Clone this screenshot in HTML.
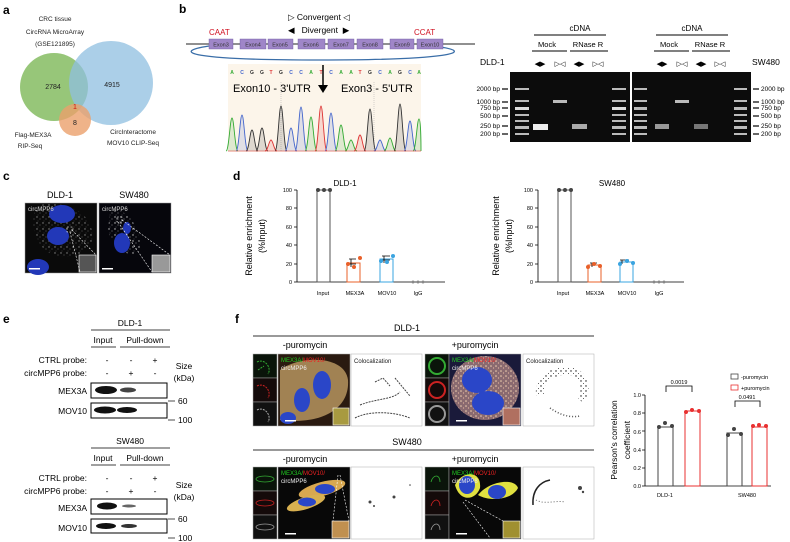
<!DOCTYPE html>
<html><head><meta charset="utf-8"><style>
html,body{margin:0;padding:0;background:#fff}
svg{display:block;font-family:"Liberation Sans",Arial,sans-serif}
</style></head><body>
<svg width="790" height="542" viewBox="0 0 790 542" xmlns="http://www.w3.org/2000/svg">
<defs>
<pattern id="spk" width="6" height="6" patternUnits="userSpaceOnUse"><circle cx="1" cy="1" r="0.7" fill="#ddd"/><circle cx="4" cy="3" r="0.5" fill="#bbb"/><circle cx="2" cy="5" r="0.4" fill="#999"/></pattern>
<pattern id="spkp" width="5" height="5" patternUnits="userSpaceOnUse"><rect width="5" height="5" fill="#8a6a70"/><circle cx="1" cy="1" r="0.8" fill="#f0d0b0"/><circle cx="3.5" cy="3" r="0.6" fill="#e8b8a0"/></pattern>
<pattern id="dots" width="5" height="5" patternUnits="userSpaceOnUse"><circle cx="1" cy="1" r="0.7" fill="#111"/><circle cx="3.5" cy="3.5" r="0.5" fill="#333"/></pattern>
</defs>
<!-- panel letters -->
<g font-weight="bold" font-size="12" fill="#000">
<text x="3" y="14">a</text><text x="179" y="13">b</text><text x="3" y="180">c</text><text x="233" y="180">d</text><text x="3" y="323">e</text><text x="235" y="323">f</text>
</g>

<!-- A: Venn -->
<g font-size="6.5" text-anchor="middle" fill="#222">
<text x="55" y="21">CRC tissue</text><text x="55" y="34">CircRNA MicroArray</text><text x="55" y="46">(GSE121895)</text>
</g>
<circle cx="54" cy="87" r="34" fill="#8cc06a" opacity="0.9"/>
<circle cx="111" cy="83" r="42" fill="#8fbfe0" opacity="0.75"/>
<circle cx="75" cy="120" r="16" fill="#eba06c" opacity="0.8"/>
<g font-size="7" text-anchor="middle" fill="#222">
<text x="53" y="89">2784</text><text x="112" y="87">4915</text>
<text x="75" y="109" fill="#d01010">1</text><text x="75" y="125">8</text>
<text x="33" y="137" font-size="6.5">Flag-MEX3A</text><text x="30" y="148" font-size="6.5">RIP-Seq</text>
<text x="133" y="134" font-size="6.5">CircInteractome</text><text x="133" y="145" font-size="6.5">MOV10 CLIP-Seq</text>
</g>

<!-- B: exon diagram -->
<text x="288" y="20" font-size="8.5">▷ Convergent ◁</text>
<text x="288" y="33" font-size="8.5">◀&#160;&#160;&#160;Divergent&#160;&#160;▶</text>
<text x="209" y="35" font-size="8" fill="#d01020">CAAT</text>
<text x="414" y="35" font-size="8" fill="#d01020">CCAT</text>
<line x1="186" y1="44" x2="475" y2="44" stroke="#222" stroke-width="1"/>
<path d="M209 46 C170 52 190 60 320 60 C450 60 475 52 440 47" fill="none" stroke="#3a6ea8" stroke-width="1.3"/>
<g fill="#9f86c8" stroke="#6c57a0" stroke-width="0.4">
<rect x="209" y="39" width="24" height="10"/><rect x="240" y="39" width="26" height="10"/><rect x="268" y="39" width="25" height="10"/><rect x="298" y="39" width="27" height="10"/><rect x="328" y="39" width="26" height="10"/><rect x="357" y="39" width="26" height="10"/><rect x="390" y="39" width="24" height="10"/><rect x="417" y="39" width="26" height="10"/>
</g>
<g font-size="5.5" fill="#333" text-anchor="middle">
<text x="221" y="46.5">Exon3</text><text x="253" y="46.5">Exon4</text><text x="280" y="46.5">Exon5</text><text x="311" y="46.5">Exon6</text><text x="341" y="46.5">Exon7</text><text x="370" y="46.5">Exon8</text><text x="402" y="46.5">Exon9</text><text x="430" y="46.5">Exon10</text>
</g>
<!-- chromatogram -->
<rect x="228" y="64" width="193" height="88" fill="#fcf5ea"/>
<line x1="281" y1="82" x2="281" y2="152" stroke="#aaa" stroke-width="0.5" stroke-dasharray="1,1"/>
<line x1="374" y1="82" x2="374" y2="152" stroke="#aaa" stroke-width="0.5" stroke-dasharray="1,1"/>
<g font-size="5" text-anchor="middle" font-weight="bold">
<text x="232" y="74" fill="#3a3">A</text><text x="242" y="74" fill="#46c">C</text><text x="252" y="74" fill="#333">G</text><text x="262" y="74" fill="#333">G</text><text x="271" y="74" fill="#d33">T</text><text x="281" y="74" fill="#333">G</text><text x="291" y="74" fill="#46c">C</text><text x="301" y="74" fill="#46c">C</text><text x="311" y="74" fill="#3a3">A</text><text x="321" y="74" fill="#d33">T</text><text x="331" y="74" fill="#46c">C</text><text x="341" y="74" fill="#3a3">A</text><text x="351" y="74" fill="#3a3">A</text><text x="360" y="74" fill="#d33">T</text><text x="370" y="74" fill="#333">G</text><text x="380" y="74" fill="#46c">C</text><text x="390" y="74" fill="#3a3">A</text><text x="400" y="74" fill="#333">G</text><text x="410" y="74" fill="#46c">C</text><text x="419" y="74" fill="#3a3">A</text>
</g>
<text x="233" y="92" font-size="11">Exon10 - 3'UTR</text>
<text x="341" y="92" font-size="11">Exon3 - 5'UTR</text>
<line x1="323" y1="65" x2="323" y2="88" stroke="#000" stroke-width="1.5"/>
<path d="M318 85 L323 93 L328 85 Z" fill="#000"/>
<g stroke-width="0.9" fill-opacity="0.15">
<path d="M226 151 C229 151 230 118 232 118 C234 118 235 151 238 151" stroke="#3a3" fill="#3a3"/>
<path d="M236 151 C239 151 240 115 242 115 C244 115 245 151 248 151" stroke="#46c" fill="#46c"/>
<path d="M246 151 C249 151 250 130 252 130 C254 130 255 151 258 151" stroke="#333" fill="#333"/>
<path d="M256 151 C259 151 260 128 262 128 C264 128 265 151 268 151" stroke="#333" fill="#333"/>
<path d="M265 151 C268 151 269 140 271 140 C273 140 274 151 277 151" stroke="#d33" fill="#d33"/>
<path d="M275 151 C278 151 279 106 281 106 C283 106 284 151 287 151" stroke="#333" fill="#333"/>
<path d="M285 151 C288 151 289 128 291 128 C293 128 294 151 297 151" stroke="#46c" fill="#46c"/>
<path d="M295 151 C298 151 299 107 301 107 C303 107 304 151 307 151" stroke="#46c" fill="#46c"/>
<path d="M305 151 C308 151 309 117 311 117 C313 117 314 151 317 151" stroke="#3a3" fill="#3a3"/>
<path d="M315 151 C318 151 319 106 321 106 C323 106 324 151 327 151" stroke="#d33" fill="#d33"/>
<path d="M325 151 C328 151 329 113 331 113 C333 113 334 151 337 151" stroke="#46c" fill="#46c"/>
<path d="M335 151 C338 151 339 125 341 125 C343 125 344 151 347 151" stroke="#3a3" fill="#3a3"/>
<path d="M345 151 C348 151 349 140 351 140 C353 140 354 151 357 151" stroke="#3a3" fill="#3a3"/>
<path d="M354 151 C357 151 358 135 360 135 C362 135 363 151 366 151" stroke="#d33" fill="#d33"/>
<path d="M364 151 C367 151 368 109 370 109 C372 109 373 151 376 151" stroke="#333" fill="#333"/>
<path d="M374 151 C377 151 378 140 380 140 C382 140 383 151 386 151" stroke="#46c" fill="#46c"/>
<path d="M384 151 C387 151 388 138 390 138 C392 138 393 151 396 151" stroke="#3a3" fill="#3a3"/>
<path d="M394 151 C397 151 398 104 400 104 C402 104 403 151 406 151" stroke="#333" fill="#333"/>
<path d="M404 151 C407 151 408 121 410 121 C412 121 413 151 416 151" stroke="#46c" fill="#46c"/>
<path d="M413 151 C416 151 417 119 419 119 C421 119 421 151 421 151" stroke="#3a3" fill="#3a3"/>
</g>
<line x1="228" y1="151" x2="421" y2="151" stroke="#d33" stroke-width="0.6"/>

<!-- B: gels -->
<g font-size="8" text-anchor="middle">
<text x="580" y="31">cDNA</text><text x="692" y="31">cDNA</text>
<text x="547" y="47" font-size="7.5">Mock</text><text x="588" y="47" font-size="7.5">RNase R</text>
<text x="669" y="47" font-size="7.5">Mock</text><text x="710" y="47" font-size="7.5">RNase R</text>
</g>
<g stroke="#000" stroke-width="1">
<line x1="534" y1="35" x2="606" y2="35"/><line x1="656" y1="35" x2="728" y2="35"/>
<line x1="532" y1="51" x2="567" y2="51"/><line x1="570" y1="51" x2="608" y2="51"/>
<line x1="654" y1="51" x2="689" y2="51"/><line x1="692" y1="51" x2="730" y2="51"/>
</g>
<text x="480" y="65" font-size="8.5">DLD-1</text><text x="752" y="65" font-size="8.5">SW480</text>
<g font-size="7" text-anchor="middle">
<text x="540" y="66">◀▶</text><text x="560" y="66">▷◁</text><text x="579" y="66">◀▶</text><text x="598" y="66">▷◁</text>
<text x="662" y="66">◀▶</text><text x="682" y="66">▷◁</text><text x="701" y="66">◀▶</text><text x="720" y="66">▷◁</text>
</g>
<rect x="510" y="72" width="120" height="70" fill="#0c0c0c"/>
<rect x="632" y="72" width="119" height="70" fill="#0c0c0c"/>
<g fill="#bbb">
<rect x="515" y="88" width="14" height="2"/><rect x="515" y="100" width="14" height="2"/><rect x="515" y="107" width="14" height="3" fill="#ddd"/><rect x="515" y="114" width="14" height="2"/><rect x="515" y="120" width="14" height="2"/><rect x="515" y="126" width="14" height="3"/><rect x="515" y="133" width="14" height="2"/>
<rect x="612" y="88" width="14" height="2"/><rect x="612" y="100" width="14" height="2"/><rect x="612" y="107" width="14" height="3" fill="#ddd"/><rect x="612" y="114" width="14" height="2"/><rect x="612" y="120" width="14" height="2"/><rect x="612" y="126" width="14" height="3"/><rect x="612" y="133" width="14" height="2"/>
<rect x="634" y="88" width="13" height="2"/><rect x="634" y="100" width="13" height="2"/><rect x="634" y="107" width="13" height="3"/><rect x="634" y="114" width="13" height="2"/><rect x="634" y="120" width="13" height="2"/><rect x="634" y="126" width="13" height="3"/><rect x="634" y="133" width="13" height="2"/>
<rect x="734" y="88" width="13" height="2"/><rect x="734" y="100" width="13" height="2"/><rect x="734" y="107" width="13" height="3"/><rect x="734" y="114" width="13" height="2"/><rect x="734" y="120" width="13" height="2"/><rect x="734" y="126" width="13" height="3"/><rect x="734" y="133" width="13" height="2"/>
<rect x="533" y="124" width="15" height="6" fill="#eee"/><rect x="553" y="100" width="14" height="3"/><rect x="572" y="124" width="15" height="5" fill="#aaa"/>
<rect x="655" y="124" width="14" height="5" fill="#999"/><rect x="675" y="100" width="14" height="3"/><rect x="694" y="124" width="14" height="5" fill="#777"/>
</g>
<g font-size="6.5" text-anchor="end">
<text x="500" y="91">2000 bp</text><text x="500" y="104">1000 bp</text><text x="500" y="110">750 bp</text><text x="500" y="118">500 bp</text><text x="500" y="128">250 bp</text><text x="500" y="136">200 bp</text>
</g>
<g stroke="#000" stroke-width="1.2">
<line x1="502" y1="89" x2="508" y2="89"/><line x1="502" y1="102" x2="508" y2="102"/><line x1="502" y1="108" x2="508" y2="108"/><line x1="502" y1="116" x2="508" y2="116"/><line x1="502" y1="126" x2="508" y2="126"/><line x1="502" y1="134" x2="508" y2="134"/>
<line x1="753" y1="89" x2="759" y2="89"/><line x1="753" y1="102" x2="759" y2="102"/><line x1="753" y1="108" x2="759" y2="108"/><line x1="753" y1="116" x2="759" y2="116"/><line x1="753" y1="126" x2="759" y2="126"/><line x1="753" y1="134" x2="759" y2="134"/>
</g>
<g font-size="6.5">
<text x="761" y="91">2000 bp</text><text x="761" y="104">1000 bp</text><text x="761" y="110">750 bp</text><text x="761" y="118">500 bp</text><text x="761" y="128">250 bp</text><text x="761" y="136">200 bp</text>
</g>

<!-- C: FISH images -->
<g font-size="9" text-anchor="middle"><text x="60" y="198">DLD-1</text><text x="134" y="198">SW480</text></g>
<rect x="25" y="203" width="72" height="70" fill="#0a0a0a" stroke="#999" stroke-width="0.5"/>
<rect x="99" y="203" width="72" height="70" fill="#06060c" stroke="#999" stroke-width="0.5"/>
<path d="M40 205 C70 200 95 215 92 240 C88 258 60 262 45 250 C30 235 30 210 40 205Z" fill="url(#spk)" opacity="0.6"/>
<path d="M110 212 C125 205 140 225 140 248 C135 262 112 250 108 230Z" fill="url(#spk)" opacity="0.9"/>
<ellipse cx="62" cy="214" rx="13" ry="9" fill="#2238b8"/>
<ellipse cx="58" cy="236" rx="11" ry="9" fill="#2238b8"/>
<ellipse cx="38" cy="267" rx="11" ry="8" fill="#2238b8"/>
<ellipse cx="122" cy="243" rx="8" ry="10" fill="#2238b8"/>
<ellipse cx="127" cy="228" rx="4" ry="6" fill="#2238b8"/>
<rect x="79" y="255" width="17" height="17" fill="#555" stroke="#fff" stroke-width="0.6"/>
<rect x="152" y="255" width="18" height="17" fill="#999" stroke="#fff" stroke-width="0.6"/>
<g stroke="#fff" stroke-width="0.6" stroke-dasharray="2,1.5" fill="none">
<rect x="67" y="227" width="5" height="5"/><line x1="72" y1="230" x2="96" y2="255"/><line x1="70" y1="232" x2="80" y2="272"/>
<rect x="117" y="217" width="5" height="5"/><line x1="122" y1="220" x2="170" y2="255"/><line x1="118" y1="222" x2="152" y2="272"/>
</g>
<text x="28" y="211" font-size="6" fill="#ddd">circMPP6</text><text x="102" y="211" font-size="6" fill="#ddd">circMPP6</text>
<rect x="29" y="268" width="11" height="1.5" fill="#fff"/><rect x="102" y="268" width="11" height="1.5" fill="#fff"/>

<!-- D: bar charts -->
<g font-size="8" text-anchor="middle"><text x="345" y="186">DLD-1</text><text x="612" y="186">SW480</text></g>
<g font-size="9" text-anchor="middle">
<text transform="translate(252,236) rotate(-90)">Relative enrichment</text>
<text transform="translate(265,236) rotate(-90)">(%Input)</text>
<text transform="translate(499,236) rotate(-90)">Relative enrichment</text>
<text transform="translate(512,236) rotate(-90)">(%Input)</text>
</g>
<g font-size="5.5" text-anchor="end">
<text x="292" y="192">100</text><text x="292" y="210">80</text><text x="292" y="229">60</text><text x="292" y="247">40</text><text x="292" y="266">20</text><text x="292" y="284">0</text>
<text x="533" y="192">100</text><text x="533" y="210">80</text><text x="533" y="229">60</text><text x="533" y="247">40</text><text x="533" y="266">20</text><text x="533" y="284">0</text>
</g>
<g stroke="#000" stroke-width="0.8" fill="none">
<path d="M297 190 V282 H445 M294 190 H297 M294 208 H297 M294 227 H297 M294 245 H297 M294 264 H297 M294 282 H297"/>
<path d="M538 190 V282 H684 M535 190 H538 M535 208 H538 M535 227 H538 M535 245 H538 M535 264 H538 M535 282 H538"/>
</g>
<g fill="none" stroke-width="1">
<rect x="317" y="190" width="13" height="92" stroke="#555"/>
<rect x="347" y="263" width="13" height="19" stroke="#e8602a"/>
<rect x="380" y="259" width="13" height="23" stroke="#3aa4e0"/>
<rect x="558" y="190" width="13" height="92" stroke="#555"/>
<rect x="588" y="265" width="13" height="17" stroke="#e8602a"/>
<rect x="620" y="262" width="13" height="20" stroke="#3aa4e0"/>
</g>
<g stroke="#000" stroke-width="0.8">
<path d="M351 259 V267 M349 259 H356 M349 264 H356 M384 256 V263 M382 256 H390 M382 260 H390 M592 263 V267 M590 263 H597 M622 260 V264 M620 260 H629"/>
</g>
<g fill="#444"><circle cx="318" cy="190" r="2"/><circle cx="324" cy="190" r="2"/><circle cx="330" cy="190" r="2"/><circle cx="559" cy="190" r="2"/><circle cx="565" cy="190" r="2"/><circle cx="571" cy="190" r="2"/>
<circle cx="413" cy="282" r="1.5" fill="#888"/><circle cx="418" cy="282" r="1.5" fill="#888"/><circle cx="423" cy="282" r="1.5" fill="#888"/>
<circle cx="654" cy="282" r="1.5" fill="#888"/><circle cx="659" cy="282" r="1.5" fill="#888"/><circle cx="664" cy="282" r="1.5" fill="#888"/></g>
<g fill="#e8602a"><circle cx="348" cy="264" r="2"/><circle cx="354" cy="267" r="2"/><circle cx="360" cy="258" r="2"/><circle cx="588" cy="267" r="2"/><circle cx="594" cy="264" r="2"/><circle cx="600" cy="266" r="2"/></g>
<g fill="#3aa4e0"><circle cx="381" cy="261" r="2"/><circle cx="387" cy="262" r="2"/><circle cx="393" cy="256" r="2"/><circle cx="620" cy="264" r="2"/><circle cx="627" cy="261" r="2"/><circle cx="633" cy="263" r="2"/></g>
<g font-size="5.5" text-anchor="middle">
<text x="323" y="295">Input</text><text x="355" y="295">MEX3A</text><text x="387" y="295">MOV10</text><text x="418" y="295">IgG</text>
<text x="563" y="295">Input</text><text x="595" y="295">MEX3A</text><text x="627" y="295">MOV10</text><text x="659" y="295">IgG</text>
</g>

<!-- E: western blots -->
<g font-size="8.5" text-anchor="middle">
<text x="130" y="326">DLD-1</text><text x="103" y="343">Input</text><text x="145" y="343">Pull-down</text>
<text x="130" y="444">SW480</text><text x="103" y="461">Input</text><text x="145" y="461">Pull-down</text>
</g>
<g stroke="#000" stroke-width="0.8">
<line x1="91" y1="330" x2="170" y2="330"/><line x1="91" y1="347" x2="116" y2="347"/><line x1="120" y1="347" x2="170" y2="347"/>
<line x1="91" y1="448" x2="170" y2="448"/><line x1="91" y1="465" x2="116" y2="465"/><line x1="120" y1="465" x2="170" y2="465"/>
</g>
<g font-size="8.5" text-anchor="end">
<text x="87" y="363">CTRL probe:</text><text x="87" y="376">circMPP6 probe:</text><text x="87" y="394">MEX3A</text><text x="87" y="414">MOV10</text>
<text x="87" y="481">CTRL probe:</text><text x="87" y="494">circMPP6 probe:</text><text x="87" y="511">MEX3A</text><text x="87" y="531">MOV10</text>
</g>
<g font-size="8.5" text-anchor="middle">
<text x="107" y="363">-</text><text x="131" y="363">-</text><text x="155" y="363">+</text>
<text x="107" y="376">-</text><text x="131" y="376">+</text><text x="155" y="376">-</text>
<text x="107" y="481">-</text><text x="131" y="481">-</text><text x="155" y="481">+</text>
<text x="107" y="494">-</text><text x="131" y="494">+</text><text x="155" y="494">-</text>
<text x="184" y="369">Size</text><text x="184" y="381">(kDa)</text>
<text x="184" y="488">Size</text><text x="184" y="500">(kDa)</text>
</g>
<g font-size="8.5"><text x="178" y="404">60</text><text x="178" y="423">100</text><text x="178" y="522">60</text><text x="178" y="541">100</text></g>
<g stroke="#000" stroke-width="0.7"><line x1="168" y1="401" x2="175" y2="401"/><line x1="168" y1="420" x2="175" y2="420"/><line x1="168" y1="519" x2="175" y2="519"/><line x1="168" y1="538" x2="175" y2="538"/></g>
<g fill="#fff" stroke="#000" stroke-width="1">
<rect x="91" y="383" width="76" height="15"/><rect x="91" y="403" width="76" height="15"/>
<rect x="91" y="499" width="76" height="15"/><rect x="91" y="519" width="76" height="14"/>
</g>
<g fill="#111">
<ellipse cx="106" cy="390" rx="11" ry="4"/><ellipse cx="128" cy="390" rx="8" ry="2.5" fill="#444"/>
<ellipse cx="105" cy="410" rx="11" ry="3.5"/><ellipse cx="127" cy="410" rx="10" ry="3"/>
<ellipse cx="107" cy="506" rx="10" ry="3.5"/><ellipse cx="129" cy="506" rx="7" ry="1.5" fill="#666"/>
<ellipse cx="106" cy="526" rx="10" ry="3"/><ellipse cx="129" cy="526" rx="8" ry="2" fill="#333"/>
</g>

<!-- F: colocalization -->
<g stroke="#333" stroke-width="1"><line x1="253" y1="336" x2="594" y2="336"/><line x1="253" y1="450" x2="594" y2="450"/></g>
<g font-size="9" text-anchor="middle">
<text x="407" y="331">DLD-1</text><text x="407" y="445">SW480</text>
<text x="305" y="348">-puromycin</text><text x="475" y="348">+puromycin</text>
<text x="305" y="462">-puromycin</text><text x="475" y="462">+puromycin</text>
</g>
<!-- row1 -->
<g stroke="#aaa" stroke-width="0.5">
<rect x="253" y="354" width="24" height="24" fill="#0a140a"/><rect x="253" y="378" width="24" height="24" fill="#140a0a"/><rect x="253" y="402" width="24" height="24" fill="#111"/>
<rect x="278" y="354" width="72" height="72" fill="#2a1a10"/><rect x="351" y="354" width="71" height="72" fill="#fff"/>
<rect x="425" y="354" width="24" height="24" fill="#0a140a"/><rect x="425" y="378" width="24" height="24" fill="#140a0a"/><rect x="425" y="402" width="24" height="24" fill="#111"/>
<rect x="449" y="354" width="72" height="72" fill="#1a1a3a"/><rect x="523" y="354" width="71" height="72" fill="#fff"/>
</g>
<g fill="none" stroke-width="1" stroke-dasharray="2,1">
<path d="M257 362 C265 358 272 368 268 374 M258 370 L264 366" stroke="#3a3"/>
<path d="M257 386 C265 382 272 392 268 398" stroke="#c22"/>
<path d="M257 410 C265 406 272 416 268 422" stroke="#aaa"/>
</g>
<ellipse cx="437" cy="366" rx="8" ry="8" fill="none" stroke="#3a3" stroke-width="2"/>
<ellipse cx="437" cy="390" rx="8" ry="8" fill="none" stroke="#c22" stroke-width="2"/>
<ellipse cx="437" cy="414" rx="8" ry="8" fill="none" stroke="#999" stroke-width="2"/>
<path d="M280 370 C300 355 345 355 348 380 C350 410 320 425 280 420Z" fill="#c9a66a" opacity="0.75"/>
<ellipse cx="322" cy="385" rx="9" ry="14" fill="#2a46c8"/><ellipse cx="302" cy="400" rx="8" ry="12" fill="#2a46c8"/><ellipse cx="288" cy="418" rx="8" ry="6" fill="#2a46c8"/>
<rect x="333" y="408" width="16" height="17" fill="#a89a40" stroke="#fff" stroke-width="0.6"/>
<ellipse cx="485" cy="388" rx="34" ry="32" fill="url(#spkp)"/>
<ellipse cx="477" cy="380" rx="15" ry="13" fill="#2a46c8"/><ellipse cx="488" cy="403" rx="16" ry="12" fill="#2a46c8"/>
<rect x="503" y="408" width="17" height="17" fill="#b07060" stroke="#fff" stroke-width="0.6"/>
<g font-size="6"><text x="281" y="362" fill="#2c2">MEX3A/<tspan fill="#e22">MOV10/</tspan></text><text x="281" y="370" fill="#eee">circMPP6</text>
<text x="452" y="362" fill="#2c2">MEX3A/<tspan fill="#e22">MOV10/</tspan></text><text x="452" y="370" fill="#eee">circMPP6</text>
<text x="354" y="363" fill="#222">Colocalization</text><text x="526" y="363" fill="#222">Colocalization</text>
<text x="354" y="477" fill="#222">Colocalization</text><text x="526" y="477" fill="#222">Colocalization</text></g>
<path d="M375 382 L383 378 L390 386 M360 405 C378 398 392 400 400 392 M395 378 L410 396 M355 418 C370 410 395 412 410 418" stroke="#444" stroke-width="1" fill="none" stroke-dasharray="2,1"/>
<path d="M540 395 C538 378 555 368 575 372 C585 378 588 392 580 400" fill="none" stroke="url(#dots)" stroke-width="8"/>
<path d="M550 408 C560 415 570 418 580 416" fill="none" stroke="#555" stroke-width="1.5" stroke-dasharray="1,2"/>
<rect x="285" y="420" width="11" height="1.5" fill="#fff"/><rect x="456" y="420" width="11" height="1.5" fill="#fff"/>
<!-- row2 -->
<g stroke="#aaa" stroke-width="0.5">
<rect x="253" y="467" width="24" height="24" fill="#0a140a"/><rect x="253" y="491" width="24" height="24" fill="#140a0a"/><rect x="253" y="515" width="24" height="24" fill="#111"/>
<rect x="278" y="467" width="72" height="72" fill="#080808"/><rect x="351" y="467" width="71" height="72" fill="#fff"/>
<rect x="425" y="467" width="24" height="24" fill="#0a140a"/><rect x="425" y="491" width="24" height="24" fill="#140a0a"/><rect x="425" y="515" width="24" height="24" fill="#111"/>
<rect x="449" y="467" width="72" height="72" fill="#080808"/><rect x="523" y="467" width="71" height="72" fill="#fff"/>
</g>
<g fill="none" stroke-width="0.8">
<ellipse cx="265" cy="479" rx="9" ry="3" stroke="#3a3"/><ellipse cx="265" cy="503" rx="9" ry="3" stroke="#c22"/><ellipse cx="265" cy="527" rx="9" ry="3" stroke="#999"/>
<path d="M431 482 C433 474 440 474 440 482" stroke="#3a3"/><path d="M431 506 C433 498 440 498 440 506" stroke="#c22"/><path d="M431 530 C433 522 440 522 440 530" stroke="#999"/>
</g>
<ellipse cx="322" cy="489" rx="24" ry="7" transform="rotate(-15 322 489)" fill="#d8a850"/>
<ellipse cx="306" cy="503" rx="20" ry="6" transform="rotate(-18 306 503)" fill="#d8b050"/>
<ellipse cx="325" cy="489" rx="10" ry="5" fill="#2a46c8"/><ellipse cx="307" cy="502" rx="9" ry="4.5" fill="#2a46c8"/>
<rect x="332" y="521" width="17" height="17" fill="#c09050" stroke="#fff" stroke-width="0.6"/>
<path d="M455 485 C462 470 482 470 480 488 C476 500 460 503 455 485Z M478 495 C490 480 515 478 518 488 C512 500 490 502 478 495Z" fill="#e0e040"/>
<ellipse cx="467" cy="485" rx="8" ry="9" fill="#2a46c8"/><ellipse cx="497" cy="492" rx="9" ry="7" fill="#2a46c8"/>
<rect x="503" y="521" width="17" height="17" fill="#a09030" stroke="#fff" stroke-width="0.6"/>
<g stroke="#fff" stroke-width="0.6" stroke-dasharray="2,1.5" fill="none">
<line x1="340" y1="475" x2="349" y2="521"/><line x1="338" y1="475" x2="333" y2="521"/>
<line x1="465" y1="500" x2="503" y2="521"/><line x1="463" y1="502" x2="490" y2="538"/>
</g>
<g font-size="6"><text x="281" y="475" fill="#2c2">MEX3A/<tspan fill="#e22">MOV10/</tspan></text><text x="281" y="483" fill="#eee">circMPP6</text>
<text x="452" y="475" fill="#2c2">MEX3A/<tspan fill="#e22">MOV10/</tspan></text><text x="452" y="483" fill="#eee">circMPP8</text></g>
<path d="M533 505 C532 490 540 482 550 480" stroke="#222" stroke-width="1.5" fill="none"/>
<path d="M536 500 C545 505 555 500 565 502" stroke="#666" stroke-width="1" fill="none" stroke-dasharray="1,2"/>
<g fill="#444"><circle cx="370" cy="502" r="1.5"/><circle cx="374" cy="506" r="1"/><circle cx="394" cy="497" r="1.5"/><circle cx="410" cy="485" r="0.8"/><circle cx="580" cy="488" r="2"/><circle cx="583" cy="492" r="1.2"/></g>
<rect x="285" y="533" width="11" height="1.5" fill="#fff"/><rect x="456" y="533" width="11" height="1.5" fill="#fff"/>

<!-- F: bar chart -->
<g font-size="8.5" text-anchor="middle"><text transform="translate(617,440) rotate(-90)">Pearson's correlation</text><text transform="translate(630,440) rotate(-90)">coefficient</text></g>
<g font-size="5.5" text-anchor="end"><text x="641" y="397">1.0</text><text x="641" y="415">0.8</text><text x="641" y="434">0.6</text><text x="641" y="452">0.4</text><text x="641" y="470">0.2</text><text x="641" y="488">0.0</text></g>
<path d="M645 395 V486 H771 M642 395 H645 M642 413 H645 M642 431 H645 M642 450 H645 M642 468 H645 M642 486 H645" stroke="#000" stroke-width="0.8" fill="none"/>
<g fill="none" stroke-width="1">
<rect x="658" y="427" width="15" height="59" stroke="#444"/>
<rect x="685" y="411" width="15" height="75" stroke="#e83030"/>
<rect x="727" y="433" width="15" height="53" stroke="#444"/>
<rect x="752" y="427" width="15" height="59" stroke="#e83030"/>
</g>
<g fill="#444"><circle cx="659" cy="427" r="2"/><circle cx="665" cy="423" r="2"/><circle cx="672" cy="426" r="2"/><circle cx="728" cy="435" r="2"/><circle cx="734" cy="429" r="2"/><circle cx="741" cy="434" r="2"/></g>
<g fill="#e83030"><circle cx="686" cy="412" r="2"/><circle cx="692" cy="410" r="2"/><circle cx="699" cy="411" r="2"/><circle cx="753" cy="426" r="2"/><circle cx="759" cy="425" r="2"/><circle cx="766" cy="426" r="2"/></g>
<path d="M666 392 V386 H692 V392 M735 407 V401 H760 V407" stroke="#000" stroke-width="0.8" fill="none"/>
<g font-size="5.5" text-anchor="middle"><text x="679" y="384">0.0019</text><text x="747" y="399">0.0491</text><text x="665" y="497">DLD-1</text><text x="747" y="497">SW480</text></g>
<rect x="731" y="374" width="7" height="5" fill="none" stroke="#444" stroke-width="0.8"/>
<rect x="731" y="385" width="7" height="5" fill="none" stroke="#e83030" stroke-width="0.8"/>
<g font-size="5.5"><text x="741" y="379">-puromycin</text><text x="741" y="390">+puromycin</text></g>
</svg>
</body></html>
